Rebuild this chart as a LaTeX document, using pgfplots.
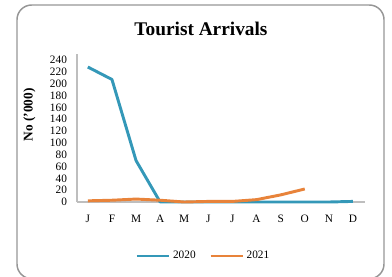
\documentclass[border=0pt]{standalone}
\usepackage{fontspec}
\setmainfont{Liberation Serif}
\usepackage{pgfplots}
\pgfplotsset{compat=1.18}
\definecolor{c2020}{RGB}{52,152,184}
\definecolor{c2021}{RGB}{232,131,58}
\definecolor{axgray}{RGB}{190,190,190}
\definecolor{framegray}{RGB}{150,150,150}
\begin{document}
\begin{tikzpicture}
\useasboundingbox (0,0) rectangle (294pt,-207pt);
\begin{scope}
\clip (0,0) rectangle (294pt,-207pt);
\draw[framegray, line width=1.1pt, rounded corners=11pt] (12.75pt,-3.75pt) rectangle (288pt,-209pt);
\end{scope}
\node[font=\bfseries\fontsize{14.5}{16}\selectfont] at (150.75pt,-21.75pt) {Tourist Arrivals};
\begin{axis}[
  at={(57.75pt,-151.5pt)}, anchor=south west,
  scale only axis, width=216pt, height=111pt,
  xmin=-0.45, xmax=11.5, ymin=0, ymax=250,
  xtick={0,...,11},
  xticklabels={J,F,M,A,M,J,J,A,S,O,N,D},
  ytick={0,20,...,240},
  major tick length=0pt,
  axis x line*=bottom, axis y line*=left,
  axis line style={axgray, line width=0.8pt, -},
  tick label style={font=\fontsize{8.5}{9}\selectfont},
  /pgf/number format/assume math mode=true,
  yticklabel style={xshift=-4pt},
  xticklabel style={yshift=-6pt},
  ylabel={No ('000)},
  ylabel style={font=\bfseries\fontsize{10}{11}\selectfont, at={(rel axis cs:-0.165,0.588)}, anchor=center},
  legend columns=2,
  legend style={draw=none, at={(0.44,-0.365)}, anchor=center, font=\fontsize{8.5}{9}\selectfont, /tikz/every even column/.append style={column sep=8pt}},
  legend image code/.code={\draw[#1] (0pt,0pt) -- (24pt,0pt);},
  clip=false,
]
\addplot[c2020, line width=2.2pt, line join=round] coordinates {
(0,228) (1,207) (2,70) (3,0) (4,0) (5,0) (6,0) (7,0) (8,0) (9,0) (10,0) (11,1)};
\addlegendentry{2020}
\addplot[c2021, line width=2.2pt, line join=round] coordinates {
(0,2) (1,3) (2,5) (3,3) (4,0) (5,1) (6,1) (7,4) (8,12) (9,22)};
\addlegendentry{2021}
\end{axis}
\end{tikzpicture}
\end{document}
